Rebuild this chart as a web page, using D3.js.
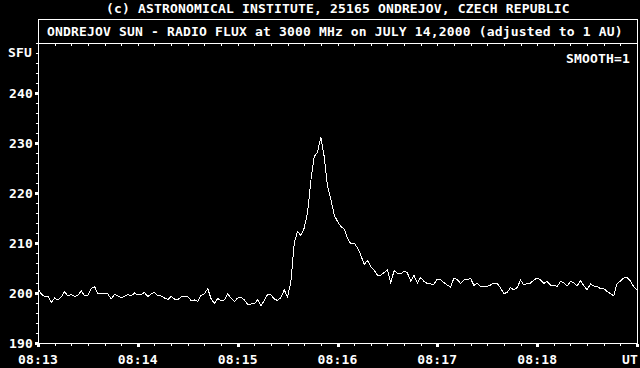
<!DOCTYPE html>
<html>
<head>
<meta charset="utf-8">
<script src="https://cdn.jsdelivr.net/npm/d3@7"></script>
<style>
    html, body { margin: 0; padding: 0; background: #000; }
    svg { display: block; }
    text {
        font-family: "DejaVu Sans Mono", monospace;
        font-size: 13px;
        font-weight: bold;
        letter-spacing: 0.17px;
        fill: #fff;
    }
</style>
</head>
<body>
<svg id="chart" width="640" height="368"></svg>
<script>
// radio flux, one reading every 2 s starting 08:13:00 UT
const stepSec = 2;
const flux = [
    200.8, 199.8, 199.3, 199.4, 198.1, 199.0, 198.6, 199.2, 200.3, 199.4,
    199.7, 199.3, 199.6, 200.4, 199.5, 199.6, 200.9, 201.3, 199.8, 200.0,
    199.9, 199.8, 198.8, 199.7, 199.4, 199.1, 199.3, 199.7, 199.4, 200.0,
    199.6, 199.7, 200.1, 199.3, 199.8, 200.1, 199.5, 199.4, 199.0, 198.7,
    199.3, 198.8, 198.7, 199.2, 199.3, 199.3, 198.5, 198.6, 198.3, 199.5,
    199.8, 200.9, 198.9, 197.9, 198.9, 198.5, 198.6, 199.8, 199.0, 198.3,
    199.0, 199.2, 198.6, 197.7, 197.8, 197.9, 198.6, 197.5, 198.5, 199.7,
    199.6, 198.8, 198.5, 199.1, 200.6, 199.2, 202.3, 210.0, 212.3, 211.5,
    213.0, 216.0, 222.5, 227.3, 228.2, 231.2, 227.3, 221.3, 218.8, 215.6,
    214.3, 213.3, 212.8, 211.0, 209.8, 210.0, 209.0, 207.6, 205.7, 206.5,
    205.3, 204.6, 203.6, 203.6, 204.1, 204.6, 202.0, 204.5, 203.9, 203.8,
    204.4, 204.0, 202.4, 203.5, 202.0, 203.1, 202.3, 201.9, 201.8, 201.8,
    202.8, 202.6, 202.1, 201.6, 201.2, 203.0, 202.7, 201.9, 202.6, 202.7,
    202.9, 201.5, 202.0, 201.3, 201.2, 201.3, 201.6, 202.0, 201.9, 201.0,
    199.9, 200.1, 201.1, 200.6, 201.1, 202.6, 201.6, 201.9, 202.0, 202.6,
    203.0, 202.6, 201.9, 202.3, 201.6, 201.6, 201.3, 202.3, 202.1, 201.4,
    202.3, 202.1, 201.4, 202.5, 201.5, 200.6, 201.8, 201.4, 201.3, 200.9,
    200.9, 200.3, 199.9, 199.4, 201.9, 202.4, 203.0, 203.1, 202.4, 201.3,
    200.6
];
const yTicks = [190, 200, 210, 220, 230, 240];
const xTickLabels = ["08:13", "08:14", "08:15", "08:16", "08:17", "08:18", "UT"];
const topLine = "(c) ASTRONOMICAL INSTITUTE, 25165 ONDREJOV, CZECH REPUBLIC";
const title = "ONDREJOV SUN - RADIO FLUX at 3000 MHz on JULY 14,2000 (adjusted to 1 AU)";

const svg = d3.select("#chart");
const plotL = 38, plotR = 637, plotT = 43, plotB = 343, boxT = 19;

const x = d3.scaleLinear().domain([0, 360]).range([plotL, plotR]);
const y = d3.scaleLinear().domain([190, 250]).range([plotB, plotT]);

// frame + title box
svg.append("rect")
    .attr("x", plotL + 0.5).attr("y", boxT + 0.5)
    .attr("width", plotR - plotL).attr("height", plotB - boxT)
    .attr("fill", "none").attr("stroke", "#fff").attr("shape-rendering", "crispEdges");
svg.append("line")
    .attr("x1", plotL).attr("x2", plotR + 1)
    .attr("y1", plotT + 0.5).attr("y2", plotT + 0.5)
    .attr("stroke", "#fff").attr("shape-rendering", "crispEdges");

// minor ticks, every 10 s on top and bottom
const minor = d3.range(0, 361, 10);
svg.selectAll(".tt").data(minor).enter().append("rect")
    .attr("x", d => Math.round(x(d))).attr("y", plotT + 1)
    .attr("width", 1).attr("height", 2).attr("fill", "#fff");
svg.selectAll(".bt").data(minor).enter().append("rect")
    .attr("x", d => Math.round(x(d))).attr("y", plotB + 1)
    .attr("width", 1).attr("height", 2).attr("fill", "#fff");
// major x ticks every minute
svg.selectAll(".bm").data(d3.range(0, 361, 60)).enter().append("rect")
    .attr("x", d => Math.round(x(d)) - 1).attr("y", plotB + 1)
    .attr("width", 3).attr("height", 3).attr("fill", "#fff");

// y ticks
svg.selectAll(".ym").data(d3.range(190, 251, 2)).enter().append("rect")
    .attr("x", plotL - 2).attr("y", d => Math.round(y(d)))
    .attr("width", 2).attr("height", 1).attr("fill", "#fff");
svg.selectAll(".yM").data(yTicks).enter().append("rect")
    .attr("x", plotL - 3).attr("y", d => Math.round(y(d)) - 1)
    .attr("width", 3).attr("height", 3).attr("fill", "#fff");

svg.selectAll(".yl").data(yTicks).enter().append("text")
    .attr("x", 33).attr("y", d => y(d) + 5)
    .attr("text-anchor", "end")
    .text(d => d);
svg.append("text").attr("x", 8).attr("y", 57).text("SFU");

svg.selectAll(".xl").data(xTickLabels).enter().append("text")
    .attr("x", (d, i) => i < 6 ? x(i * 60) : 638)
    .attr("y", 364)
    .attr("text-anchor", (d, i) => i < 6 ? "middle" : "end")
    .text(d => d);

svg.append("text").attr("x", 106).attr("y", 13).text(topLine);
svg.append("text").attr("x", 47).attr("y", 36).text(title);
svg.append("text").attr("x", 630).attr("y", 63).attr("text-anchor", "end").text("SMOOTH=1");

// flux curve
const line = d3.line()
    .x((d, i) => x(i * stepSec))
    .y(d => y(d));
svg.append("path")
    .datum(flux)
    .attr("d", line)
    .attr("fill", "none")
    .attr("stroke", "#fff")
    .attr("stroke-width", 1)
    .attr("shape-rendering", "crispEdges");
</script>
</body>
</html>
